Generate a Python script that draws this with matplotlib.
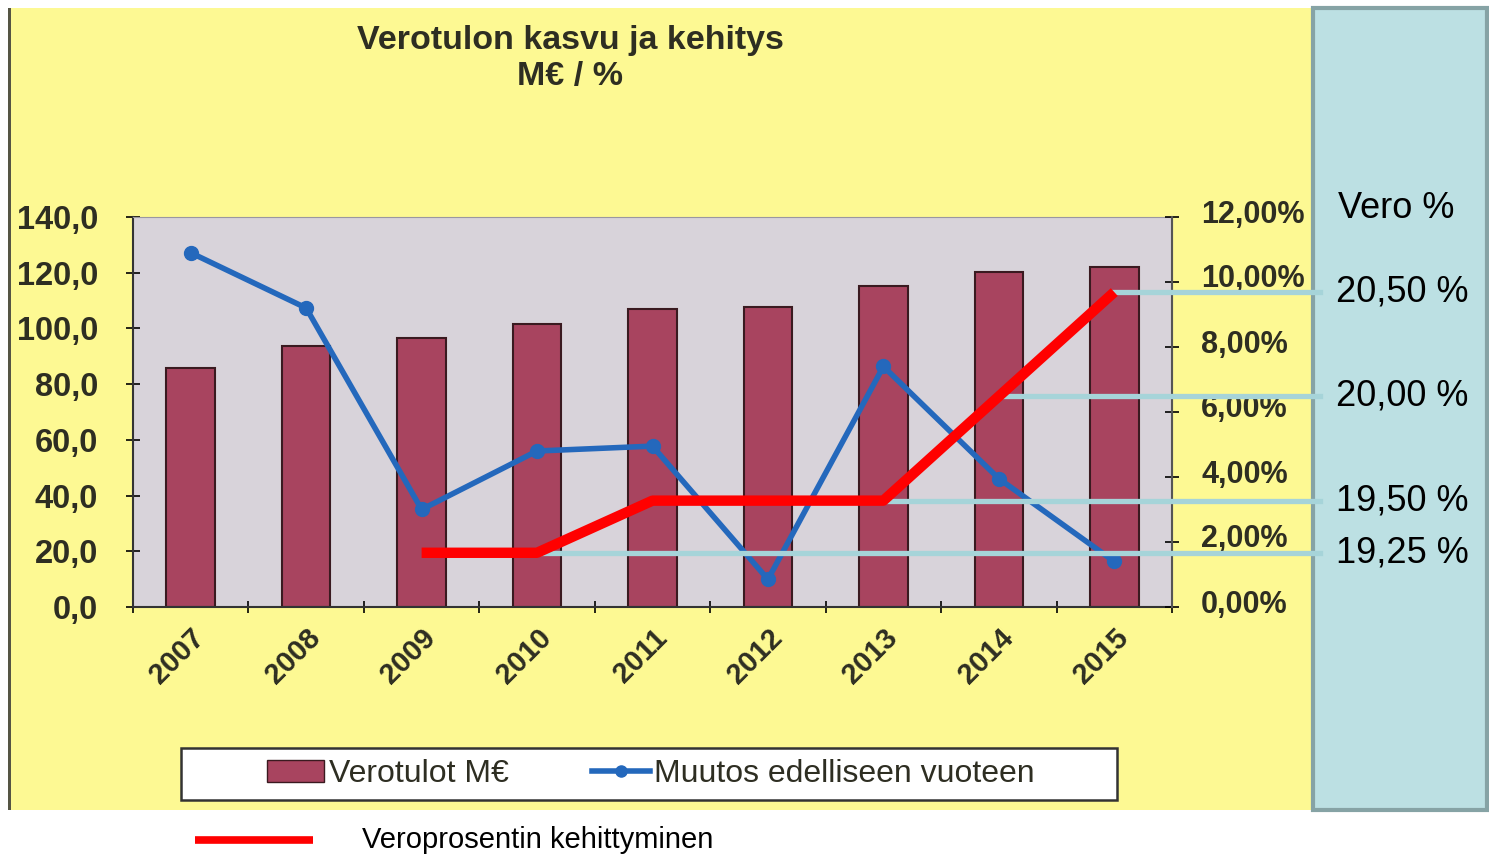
import matplotlib.pyplot as plt
from matplotlib.patches import Rectangle
from matplotlib.lines import Line2D
from matplotlib.transforms import ScaledTranslation

# ---- Data ----
years = ["2007", "2008", "2009", "2010", "2011", "2012", "2013", "2014", "2015"]
revenue = [85.8, 93.7, 96.6, 101.6, 107.0, 107.7, 115.2, 120.2, 122.0]   # Verotulot M€
change = [10.9, 9.2, 3.0, 4.8, 4.95, 0.85, 7.4, 3.95, 1.4]                # Muutos %
tax_years = ["2009", "2010", "2011", "2012", "2013", "2014", "2015"]
tax_rate = [19.25, 19.25, 19.50, 19.50, 19.50, 20.00, 20.50]              # Vero %
label_rates = [20.50, 20.00, 19.50, 19.25]
label_from = ["2015", "2014", "2013", "2010"]
rate_texts = ["20,50 %", "20,00 %", "19,50 %", "19,25 %"]

W, H = 1489, 855
plt.rcParams["font.family"] = ["Liberation Sans", "DejaVu Sans"]
fig = plt.figure(figsize=(W / 100, H / 100), dpi=100)
fig.patch.set_facecolor("white")

def fx(px):
    return px / W

def fy(py):
    return 1 - py / H

# bakgrund: gul scannad bild + ljusblå panel
fig.patches.append(Rectangle((fx(10), fy(810)), fx(1301), 802 / H,
                             transform=fig.transFigure, facecolor="#fdf993",
                             edgecolor="none", zorder=-5))
fig.patches.append(Rectangle((fx(8), fy(810)), fx(3), 802 / H,
                             transform=fig.transFigure, facecolor="#555544",
                             edgecolor="none", zorder=-5))
fig.patches.append(Rectangle((fx(1313), fy(810)), fx(174), 802 / H,
                             transform=fig.transFigure, facecolor="#bce0e3",
                             edgecolor="#86a3a5", linewidth=3, zorder=-5))
# legendram
fig.patches.append(Rectangle((fx(181), fy(800)), fx(936), 52 / H,
                             transform=fig.transFigure, facecolor="white",
                             edgecolor="#333333", linewidth=1.8, zorder=-4))

txt_col = "#2e2e22"
ax = fig.add_axes([fx(133), fy(607), fx(1172 - 133), (607 - 217) / H])
ax.set_facecolor("#d8d3da")
x = list(range(len(years)))
ax.bar(x, revenue, width=0.42, color="#a8445f", edgecolor="#3a1a20", linewidth=1.5, zorder=2)
ax.set_xlim(-0.5, len(years) - 0.5)
ax.set_ylim(0, 140)
ax.set_yticks(range(0, 141, 20))
ax.set_yticklabels([f"{v},0" for v in range(0, 141, 20)], fontsize=23.5,
                   fontweight="bold", color=txt_col)
ax.set_xticks(x)
ax.set_xticklabels(years, rotation=45, ha="right", rotation_mode="anchor",
                   fontsize=21, fontweight="bold", color=txt_col)
ax.set_xticks([i - 0.5 for i in range(len(years) + 1)], minor=True)
ax.tick_params(axis="x", which="major", length=0, pad=12)
ax.tick_params(axis="x", which="minor", length=8, direction="inout", width=1.2)
ax.tick_params(axis="y", length=10, direction="inout", width=1.2, pad=20)
for s in ["top", "right"]:
    ax.spines[s].set_color("#9a97a0")
for s in ["left", "bottom"]:
    ax.spines[s].set_color("#333333")
    ax.spines[s].set_linewidth(1.5)

ax2 = ax.twinx()
ax2.plot(x, change, color="#2468bc", linewidth=4, marker="o", markersize=10, zorder=3)
ax2.set_ylim(0, 12)
ax2.set_yticks(range(0, 13, 2))
ax2.set_yticklabels([f"{v},00%" for v in range(0, 13, 2)], fontsize=22,
                    fontweight="bold", color=txt_col)
ax2.tick_params(axis="y", length=10, direction="inout", width=1.2, pad=16)
for lab in ax2.get_yticklabels():
    lab.set_transform(lab.get_transform() + ScaledTranslation(0, 0.06, fig.dpi_scale_trans))
ax2.spines["right"].set_color("#555555")
ax2.spines["right"].set_linewidth(1.5)
for s in ["top", "left", "bottom"]:
    ax2.spines[s].set_visible(False)

# veroprosentti, egen osynlig skala
ax3 = ax.twinx()
ax3.set_ylim(18.99, 20.86)
ax3.axis("off")
tx = [years.index(y) for y in tax_years]
ax3.plot(tx, tax_rate, color="#ff0000", linewidth=7.5, solid_capstyle="butt", zorder=5)
for r, y0 in zip(label_rates, label_from):
    ax3.plot([years.index(y0), 9.78], [r, r], color="#a6d4d9", linewidth=3.8,
             clip_on=False, zorder=4)

for r, t in zip(label_rates, rate_texts):
    ax3.annotate(t, xy=(1, r), xycoords=("axes fraction", "data"),
                 xytext=(fx(1336), r), textcoords=("figure fraction", "data"),
                 fontsize=26, va="center", ha="left", color="black")
fig.text(fx(1338), fy(208), "Vero %", fontsize=26, va="center", ha="left", color="black")

# titel
fig.text(fx(570), fy(40), "Verotulon kasvu ja kehitys", fontsize=24.5, fontweight="bold",
         ha="center", va="center", color=txt_col)
fig.text(fx(570), fy(76), "M€ / %", fontsize=24.5, fontweight="bold",
         ha="center", va="center", color=txt_col)

# legend
handles = [Rectangle((0, 0), 1, 1, facecolor="#a8445f", edgecolor="#3a1a20"),
           Line2D([], [], color="#2468bc", linewidth=4, marker="o", markersize=8)]
leg = fig.legend(handles, ["Verotulot M€", "Muutos edelliseen vuoteen"], ncol=2,
                 loc="center", bbox_to_anchor=(fx(651), fy(774)),
                 fontsize=23, frameon=False,
                 handlelength=1.8, handletextpad=0.15, columnspacing=2.6, borderpad=0.2)
for t in leg.get_texts():
    t.set_color(txt_col)

# röd linje förklaring under bilden
fig.add_artist(Line2D([fx(195), fx(313)], [fy(840), fy(840)], color="#ff0000",
                      linewidth=5.5, solid_capstyle="butt", transform=fig.transFigure))
fig.text(fx(362), fy(840), "Veroprosentin kehittyminen", fontsize=21,
         ha="left", va="center", color="black")

fig.savefig("out.png", dpi=100)
